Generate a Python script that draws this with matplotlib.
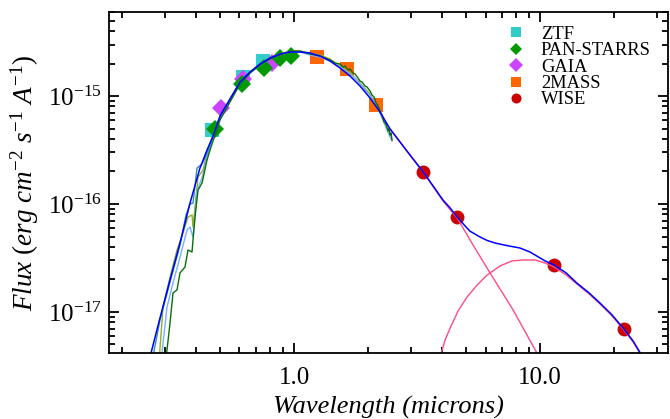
import matplotlib
matplotlib.use('Agg')
import matplotlib.pyplot as plt
from matplotlib.ticker import FixedLocator, FixedFormatter, LogLocator, NullFormatter

plt.rcParams['font.family'] = ['Liberation Serif', 'DejaVu Serif']
plt.rcParams['mathtext.fontset'] = 'custom'
plt.rcParams['mathtext.rm'] = 'Liberation Serif'
plt.rcParams['mathtext.it'] = 'Liberation Serif:italic'

# photometry (microns, erg/cm2/s/A)
ztf_wave = [0.464, 0.620, 0.748]
ztf_flux = [4.84e-16, 1.50e-15, 2.11e-15]
ps_wave = [0.477, 0.615, 0.755, 0.877, 0.972]
ps_flux = [4.95e-16, 1.29e-15, 1.82e-15, 2.25e-15, 2.34e-15]
gaia_wave = [0.505, 0.620, 0.814]
gaia_flux = [7.74e-16, 1.44e-15, 2.02e-15]
tmass_wave = [1.24, 1.64, 2.15]
tmass_flux = [2.30e-15, 1.78e-15, 8.25e-16]
wise_wave = [3.35, 4.60, 11.4, 21.9]
wise_flux = [1.98e-16, 7.58e-17, 2.72e-17, 6.96e-18]

# total model
model_wave = [0.2598, 0.2852, 0.3133, 0.3440, 0.3778, 0.4147, 0.4430, 0.4686, 0.5001, 0.5492,
              0.6032, 0.6625, 0.7273, 0.7990, 0.8772, 0.9632, 1.058, 1.162, 1.276, 1.401,
              1.538, 1.689, 1.854, 2.037, 2.236, 2.456, 2.697, 2.96, 3.35, 4.03,
              4.31, 4.60, 4.96, 5.19, 5.70, 6.09, 6.56, 7.34, 8.29, 9.10,
              9.54, 10.48, 11.4, 12.76, 14.1, 15.82, 17.5, 19.62, 21.9, 23.88,
              26.0]
model_flux = [3.83e-18, 8.80e-18, 1.98e-17, 4.35e-17, 1.021e-16, 2.154e-16, 3.162e-16, 4.26e-16, 6.53e-16, 9.38e-16,
              1.348e-15, 1.668e-15, 1.979e-15, 2.248e-15, 2.448e-15, 2.555e-15, 2.555e-15, 2.50e-15, 2.346e-15, 2.109e-15,
              1.816e-15, 1.532e-15, 1.238e-15, 9.58e-16, 7.11e-16, 4.95e-16, 3.75e-16, 2.84e-16, 1.98e-16, 1.089e-16,
              9.18e-17, 7.58e-17, 6.25e-17, 5.60e-17, 4.95e-17, 4.60e-17, 4.35e-17, 4.12e-17, 3.91e-17, 3.59e-17,
              3.37e-17, 2.97e-17, 2.72e-17, 2.30e-17, 1.855e-17, 1.50e-17, 1.212e-17, 9.38e-18, 6.96e-18, 5.39e-18,
              3.90e-18]

# stellar photosphere component
star_wave = [2.456, 2.96, 3.35, 4.03, 4.60, 5.34, 6.26, 7.77, 9.91]
star_flux = [4.95e-16, 2.84e-16, 1.98e-16, 1.066e-16, 7.42e-17, 4.17e-17, 2.30e-17, 1.043e-17, 3.83e-18]

# dust blackbody component
dust_wave = [3.92, 4.11, 4.31, 4.64, 5.05, 5.55, 6.09, 6.88, 7.69, 8.53,
             9.54, 10.48, 11.4, 12.76, 14.1, 15.82, 17.5, 19.62, 21.9, 23.88,
             26.0]
dust_flux = [3.83e-18, 5.50e-18, 7.11e-18, 1.021e-17, 1.377e-17, 1.778e-17, 2.20e-17, 2.67e-17, 2.97e-17, 3.03e-17,
             3.03e-17, 2.84e-17, 2.61e-17, 2.20e-17, 1.82e-17, 1.468e-17, 1.19e-17, 9.18e-18, 6.81e-18, 5.27e-18,
             3.83e-18]

# spectra
green_wave = [0.303, 0.3133, 0.3222, 0.3345, 0.3440, 0.3605, 0.3708, 0.3849, 0.3885, 0.3959,
              0.4072, 0.4227, 0.4430, 0.4556, 0.4774, 0.5001, 0.5492, 0.6032, 0.6625, 0.7273,
              0.7990, 0.8772, 0.9632, 1.058, 1.162, 1.276, 1.401, 1.468, 1.538, 1.582,
              1.612, 1.658, 1.689, 1.737, 1.770, 1.820, 1.854, 1.890, 1.944, 1.980,
              2.037, 2.075, 2.114, 2.154, 2.195, 2.236, 2.279, 2.322, 2.366, 2.411,
              2.433, 2.456, 2.479, 2.502]
green_flux = [4.0e-18, 7.91e-18, 1.50e-17, 1.60e-17, 2.30e-17, 2.61e-17, 3.75e-17, 3.59e-17, 4.64e-17, 7.58e-17,
              1.348e-16, 1.564e-16, 2.555e-16, 3.162e-16, 4.35e-16, 5.99e-16, 8.80e-16, 1.292e-15, 1.633e-15, 1.936e-15,
              2.199e-15, 2.398e-15, 2.61e-15, 2.61e-15, 2.448e-15, 2.346e-15, 2.154e-15, 2.02e-15, 1.979e-15, 1.855e-15,
              1.895e-15, 1.741e-15, 1.778e-15, 1.633e-15, 1.600e-15, 1.468e-15, 1.377e-15, 1.348e-15, 1.238e-15, 1.212e-15,
              1.112e-15, 1.022e-15, 9.79e-16, 8.62e-16, 8.08e-16, 7.26e-16, 6.67e-16, 5.74e-16, 5.50e-16, 4.74e-16,
              5.05e-16, 4.35e-16, 4.54e-16, 3.91e-16]

lblue_wave = [0.290, 0.3046, 0.3222, 0.3440, 0.3673, 0.3778, 0.3885, 0.4034, 0.4227, 0.4430,
              0.4642, 0.5001, 0.5492, 0.6032, 0.6625, 0.7273, 0.7990, 0.8772, 0.9632, 1.058,
              1.162, 1.276, 1.401, 1.538, 1.689, 1.804, 1.944, 2.037, 2.134, 2.236,
              2.344, 2.456, 2.502]
lblue_flux = [4.0e-18, 1.11e-17, 1.855e-17, 3.23e-17, 5.74e-17, 6.12e-17, 4.95e-17, 1.348e-16, 1.740e-16, 2.723e-16,
              3.91e-16, 6.25e-16, 8.99e-16, 1.319e-15, 1.633e-15, 1.936e-15, 2.199e-15, 2.398e-15, 2.555e-15, 2.555e-15,
              2.398e-15, 2.297e-15, 2.109e-15, 1.855e-15, 1.600e-15, 1.406e-15, 1.137e-15, 1.022e-15, 8.43e-16, 6.96e-16,
              5.50e-16, 4.17e-16, 3.83e-16]

olive_wave = [0.284, 0.2934, 0.3133, 0.3345, 0.3538, 0.3708, 0.3849, 0.3885, 0.4072, 0.4266,
              0.4430, 0.4642, 0.5001, 0.5492, 0.6032, 0.6625, 0.7273, 0.7990, 0.8772, 0.9632,
              1.058, 1.162, 1.276, 1.401, 1.538, 1.689, 1.854, 2.037, 2.236, 2.411]
olive_flux = [4.0e-18, 1.11e-17, 2.11e-17, 3.75e-17, 5.39e-17, 7.58e-17, 7.91e-17, 6.12e-17, 1.778e-16, 2.064e-16,
              2.966e-16, 4.08e-16, 6.39e-16, 9.18e-16, 1.348e-15, 1.668e-15, 1.979e-15, 2.248e-15, 2.448e-15, 2.61e-15,
              2.61e-15, 2.50e-15, 2.398e-15, 2.199e-15, 1.895e-15, 1.633e-15, 1.319e-15, 1.044e-15, 6.96e-16, 4.64e-16]

teal_wave = [0.2673, 0.2852, 0.3133, 0.3440, 0.3639, 0.3778, 0.3885, 0.4034, 0.4227, 0.4430,
             0.4642, 0.5001, 0.5492, 0.6032, 0.6625, 0.7273, 0.7990, 0.8772, 0.9632]
teal_flux = [3.91e-18, 8.43e-18, 1.896e-17, 4.17e-17, 7.91e-17, 1.0e-16, 1.021e-16, 2.154e-16, 2.346e-16, 2.966e-16,
             4.00e-16, 6.39e-16, 9.38e-16, 1.348e-15, 1.668e-15, 1.979e-15, 2.248e-15, 2.448e-15, 2.555e-15]

fig = plt.figure(figsize=(6.70, 4.19), dpi=100)
ax = fig.add_axes([109 / 670, 1 - 353 / 419, 559 / 670, 341 / 419])

# photometric points first, lines drawn over them
ax.plot(ztf_wave, ztf_flux, 's', color='#33cccc', ms=10, mew=0, label='ZTF')
ax.plot(gaia_wave, gaia_flux, 'D', color='#cc44ff', ms=9.2, mew=0, label='GAIA')
ax.plot(ps_wave, ps_flux, 'D', color='#009900', ms=8.8, mew=0, label='PAN-STARRS')
ax.plot(tmass_wave, tmass_flux, 's', color='#ff6600', ms=10.5, mew=0, label='2MASS')
ax.plot(wise_wave, wise_flux, 'o', color='#cc0000', ms=10, mew=0, label='WISE')

ax.plot(olive_wave, olive_flux, color='#8fb21a', lw=1.0)
ax.plot(lblue_wave, lblue_flux, color='#7aaeff', lw=1.0)
ax.plot(teal_wave, teal_flux, color='#2f8fb0', lw=1.0)
ax.plot(green_wave, green_flux, color='#0a6e0a', lw=1.0)
ax.plot(star_wave, star_flux, color='#ff4d80', lw=1.0)
ax.plot(dust_wave, dust_flux, color='#ff4d80', lw=1.0)
ax.plot(model_wave, model_flux, color='#0000ff', lw=1.1)

ax.set_xscale('log')
ax.set_yscale('log')
ax.set_xlim(0.177, 33.1)
ax.set_ylim(4.17e-18, 6.0e-15)

ax.xaxis.set_major_locator(FixedLocator([1.0, 10.0]))
ax.xaxis.set_major_formatter(FixedFormatter(['1.0', '10.0']))
ax.xaxis.set_minor_locator(LogLocator(base=10, subs=range(2, 10), numticks=20))
ax.xaxis.set_minor_formatter(NullFormatter())
ax.yaxis.set_major_locator(FixedLocator([1e-17, 1e-16, 1e-15]))
ax.yaxis.set_major_formatter(FixedFormatter([r'$10^{-17}$', r'$10^{-16}$', r'$10^{-15}$']))
ax.yaxis.set_minor_locator(LogLocator(base=10, subs=range(2, 10), numticks=20))
ax.yaxis.set_minor_formatter(NullFormatter())

ax.tick_params(which='both', direction='in', top=True, right=True, width=1.3, colors='black')
ax.tick_params(which='major', length=7.5, labelsize=18)
ax.tick_params(which='minor', length=4)
ax.tick_params(axis='x', which='major', pad=10)
ax.tick_params(axis='y', which='major', pad=5)
for s in ax.spines.values():
    s.set_linewidth(1.3)

ax.set_xlabel('Wavelength (microns)', fontsize=19, style='italic', labelpad=5)
ax.set_ylabel(r'$Flux\ (erg\ cm^{-2}\ s^{-1}\ A^{-1})$', fontsize=19.5, labelpad=5)

handles, labels = ax.get_legend_handles_labels()
order = [0, 2, 1, 3, 4]
ax.legend([handles[i] for i in order], [labels[i] for i in order],
          loc='upper left', bbox_to_anchor=(0.712, 0.960), frameon=False,
          fontsize=13.3, markerscale=0.72, handlelength=1.0, handletextpad=0.83,
          labelspacing=-0.03, borderpad=0, borderaxespad=0)

plt.savefig('out.png', dpi=100)
